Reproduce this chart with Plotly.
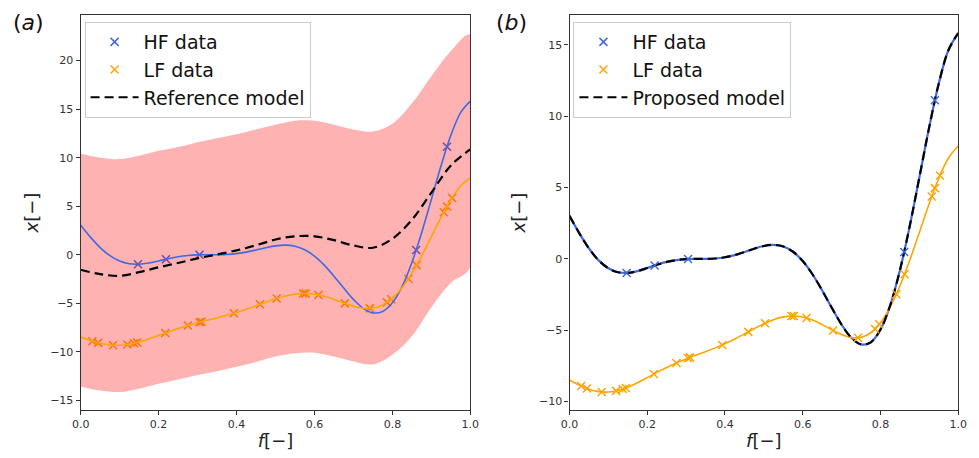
import plotly.graph_objects as go

# ---------------- data ----------------
grid_fine = [0.0, 0.025, 0.05, 0.075, 0.1, 0.125, 0.15, 0.175, 0.2, 0.225, 0.25,
             0.275, 0.3, 0.325, 0.35, 0.375, 0.4, 0.425, 0.45, 0.475, 0.5,
             0.525, 0.55, 0.575, 0.6, 0.625, 0.65, 0.675, 0.7, 0.725, 0.75,
             0.775, 0.8, 0.825, 0.85, 0.875, 0.9, 0.925, 0.95, 0.975, 1.0]
hf_curve = [3.027, 1.813, 0.738, -0.100, -0.657, -0.935, -0.978, -0.854, -0.640, -0.407, -0.210,
            -0.079, -0.016, 0.000, 0.002, 0.030, 0.115, 0.270, 0.483, 0.717, 0.909,
            0.986, 0.871, 0.503, -0.150, -1.074, -2.209, -3.439, -4.606, -5.522, -5.993,
            -5.845, -4.949, -3.254, -0.799, 2.272, 5.712, 9.187, 12.303, 14.648, 15.830]
lf_curve = [-8.486, -8.844, -9.131, -9.300, -9.328, -9.218, -8.989, -8.677, -8.320, -7.954, -7.605,
            -7.289, -7.008, -6.750, -6.499, -6.235, -5.943, -5.615, -5.259, -4.892, -4.545,
            -4.257, -4.064, -3.999, -4.075, -4.287, -4.605, -4.970, -5.303, -5.511, -5.497,
            -5.173, -4.475, -3.377, -1.900, -0.114, 1.856, 3.844, 5.652, 7.074, 7.915]
proposed_curve = hf_curve

grid_coarse = [0.0, 0.05, 0.1, 0.15, 0.2, 0.25, 0.3, 0.35, 0.4, 0.45, 0.5,
               0.55, 0.6, 0.65, 0.7, 0.75, 0.8, 0.85, 0.9, 0.95, 1.0]
ref_mean = [-1.55, -2.0, -2.17, -1.8, -1.3, -0.85, -0.37, 0.02, 0.45, 0.97, 1.57,
            1.9, 1.9, 1.5, 0.95, 0.72, 1.65, 3.6, 6.4, 9.2, 10.85]
ref_upper = [10.4, 10.0, 9.85, 10.2, 10.7, 11.1, 11.6, 12.0, 12.4, 12.9, 13.4,
             13.8, 13.8, 13.4, 12.9, 12.7, 13.5, 15.6, 18.4, 21.0, 22.7]
ref_lower = [-13.6, -14.0, -14.15, -13.8, -13.3, -12.85, -12.4, -12.0, -11.55, -11.05, -10.5,
             -10.15, -10.1, -10.5, -11.0, -11.3, -10.3, -8.4, -5.4, -2.9, -1.3]

hf_x = [0.147, 0.219, 0.305, 0.861, 0.94]
hf_y = [-0.983, -0.461, -0.010, 0.489, 11.124]
lf_x = [0.03, 0.045, 0.083, 0.12, 0.137, 0.145, 0.217, 0.275, 0.305, 0.31, 0.393, 0.46, 0.503,
        0.571, 0.577, 0.61, 0.678, 0.742, 0.786, 0.797, 0.841, 0.862, 0.932, 0.94, 0.953]
lf_y = [-8.908, -9.082, -9.325, -9.250, -9.121, -9.043, -8.070, -7.290, -6.955, -6.903, -6.028,
        -5.112, -4.506, -4.000, -3.999, -4.145, -5.013, -5.531, -4.913, -4.580, -2.471, -1.074,
        4.377, 4.962, 5.846]

x_ticks = [0.0, 0.2, 0.4, 0.6, 0.8, 1.0]
y_ticks_a = [-15, -10, -5, 0, 5, 10, 15, 20]
y_ticks_b = [-10, -5, 0, 5, 10, 15]

# ---------------- style ----------------
FONT = "DejaVu Sans"
BLUE = "#4169E1"
ORANGE = "#FFA500"
W, H = 979, 458

fig = go.Figure()

def marker_trace(x, y, color, name, xa, ya, legend, show):
    return go.Scatter(x=x, y=y, mode="markers", name=name, xaxis=xa, yaxis=ya,
                      legend=legend, legendgroup=legend + name, showlegend=show,
                      marker=dict(symbol="x-thin", size=8, color=color,
                                  line=dict(width=1.5, color=color)))

# ---- panel (a) ----
fig.add_trace(marker_trace(hf_x, hf_y, BLUE, "HF data", "x", "y", "legend", True))
fig.add_trace(marker_trace(lf_x, lf_y, ORANGE, "LF data", "x", "y", "legend", True))
fig.add_trace(go.Scatter(x=grid_coarse + grid_coarse[::-1], y=ref_upper + ref_lower[::-1],
                         mode="lines", fill="toself", fillcolor="rgba(255,0,0,0.3)",
                         line=dict(width=0, shape="spline", color="rgba(0,0,0,0)"),
                         showlegend=False, xaxis="x", yaxis="y", hoverinfo="skip"))
fig.add_trace(go.Scatter(x=grid_fine, y=hf_curve, mode="lines", line=dict(color=BLUE, width=1.6, shape="spline"),
                         showlegend=False, xaxis="x", yaxis="y"))
fig.add_trace(go.Scatter(x=grid_fine, y=lf_curve, mode="lines", line=dict(color=ORANGE, width=1.6, shape="spline"),
                         showlegend=False, xaxis="x", yaxis="y"))
fig.add_trace(go.Scatter(x=grid_coarse, y=ref_mean, mode="lines", name="Reference model",
                         line=dict(color="black", width=2.2, dash="9px,5px", shape="spline"),
                         legend="legend", legendgroup="legendref", showlegend=True, xaxis="x", yaxis="y"))

# ---- panel (b) ----
fig.add_trace(go.Scatter(x=grid_fine, y=hf_curve, mode="lines", line=dict(color=BLUE, width=2.2, shape="spline"),
                         showlegend=False, xaxis="x2", yaxis="y2"))
fig.add_trace(go.Scatter(x=grid_fine, y=lf_curve, mode="lines", line=dict(color=ORANGE, width=1.6, shape="spline"),
                         showlegend=False, xaxis="x2", yaxis="y2"))
fig.add_trace(go.Scatter(x=grid_fine, y=proposed_curve, mode="lines", name="Proposed model",
                         line=dict(color="black", width=2.2, dash="9px,5px", shape="spline"),
                         legend="legend2", legendgroup="legend2prop", showlegend=False, xaxis="x2", yaxis="y2"))
fig.add_trace(marker_trace(hf_x, hf_y, BLUE, "HF data", "x2", "y2", "legend2", True))
fig.add_trace(marker_trace(lf_x, lf_y, ORANGE, "LF data", "x2", "y2", "legend2", True))
fig.add_trace(go.Scatter(x=[None], y=[None], mode="lines", name="Proposed model",
                         line=dict(color="black", width=2.2, dash="9px,5px"),
                         legend="legend2", legendgroup="legend2prop2", showlegend=True, xaxis="x2", yaxis="y2"))

axis_common = dict(showline=True, mirror=True, linecolor="#333333", linewidth=1.2,
                   ticks="outside", ticklen=4, tickwidth=1.2, tickcolor="#333333",
                   showgrid=False, zeroline=False,
                   tickfont=dict(family=FONT, size=11, color="#333333"))

xd_a = [73 / W, 470 / W]
xd_b = [571 / W, 967 / W]
yd = [48 / H, 443 / H]

legend_common = dict(xanchor="left", yanchor="top", y=1 - 22 / H,
                     bgcolor="rgba(255,255,255,0.8)", bordercolor="#cccccc", borderwidth=1,
                     font=dict(family=FONT, size=19, color="#111111"), tracegroupgap=0,
                     itemwidth=48)

fig.update_layout(
    width=W, height=H,
    margin=dict(l=0, r=0, t=0, b=0),
    paper_bgcolor="white", plot_bgcolor="white",
    font=dict(family=FONT, color="#222222"),
    xaxis=dict(domain=xd_a, range=[0, 1], tickvals=x_ticks, tickformat=".1f", anchor="y",
               title=dict(text="<i>f</i>[−]", font=dict(size=18, family=FONT, color="#222222"), standoff=4),
               **axis_common),
    yaxis=dict(domain=yd, range=[-16.0, 24.7], tickvals=y_ticks_a, anchor="x",
               title=dict(text="<i>x</i>[−]", font=dict(size=18, family=FONT, color="#222222"), standoff=6),
               **axis_common),
    xaxis2=dict(domain=xd_b, range=[0, 1], tickvals=x_ticks, tickformat=".1f", anchor="y2",
                title=dict(text="<i>f</i>[−]", font=dict(size=18, family=FONT, color="#222222"), standoff=4),
                **axis_common),
    yaxis2=dict(domain=yd, range=[-10.59, 17.1], tickvals=y_ticks_b, anchor="x2",
                title=dict(text="<i>x</i>[−]", font=dict(size=18, family=FONT, color="#222222"), standoff=8),
                **axis_common),
    legend=dict(x=77 / W, **legend_common),
    legend2=dict(x=575 / W, **legend_common),
    annotations=[
        dict(text="(<i>a</i>)", xref="paper", yref="paper", x=2 / W, y=1 - 22 / H,
             xanchor="left", yanchor="middle", showarrow=False,
             font=dict(family=FONT, size=22, color="#111111")),
        dict(text="(<i>b</i>)", xref="paper", yref="paper", x=494 / W, y=1 - 22 / H,
             xanchor="left", yanchor="middle", showarrow=False,
             font=dict(family=FONT, size=22, color="#111111")),
    ],
)

fig.write_html("out.html")
